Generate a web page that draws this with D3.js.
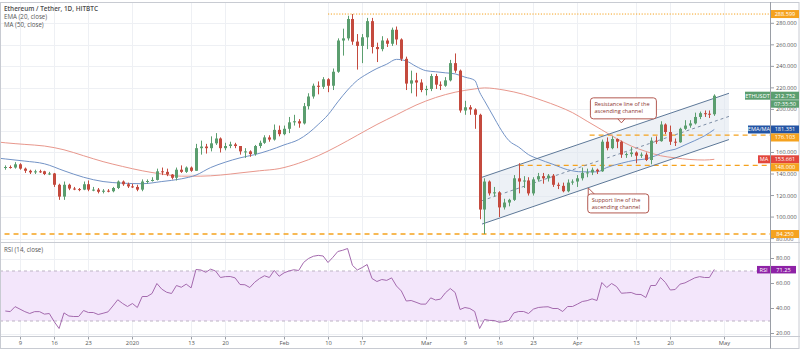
<!DOCTYPE html>
<html>
<head>
<meta charset="utf-8">
<script src="https://cdn.jsdelivr.net/npm/d3@7"></script>
<style>
  body { margin: 0; background: #fff; }
  svg { display: block; font-family: "Open Sans", "Liberation Sans", sans-serif; }
</style>
</head>
<body>
<svg id="chart" width="800" height="352"></svg>
<script>
// ETH/USDT daily, 2019-12-06 .. 2020-04-29 (day index 0..145)
const START = Date.UTC(2019, 11, 6);
const DAY = 864e5;
const dayDate = d => new Date(START + d * DAY);

// [open, high, low, close] per day
const candles = [
  [146,148,144,146.5],[146.5,148,145,146],[146,151,145,149],[149,150,144,145],[145,146,141,143],
  [143,144,140,141.5],[141.5,144,140,142.5],[142.5,144,141,142],[142.5,143,139,140],[140,142,139,140.5],
  [140.5,141,128,130],[130,131,116,119],[119,133,116,130],[130,131,125,126.5],[126.5,128,125,126],
  [126,127,124,125.5],[125.5,133,125,130.5],[130.5,134,124,125.5],[125.5,128,124,125.5],[125.5,127,122,123.5],
  [123.5,126,122,124.5],[124.5,126,123,124],[124,128,123,127],[127,134,126,133],[133,134,129,130.5],
  [130.5,132,127,128.5],[128.5,131,127,128],[128,130,124,125.5],[125.5,135,124,133],[133,135,131,133.5],
  [133.5,137,133,134.5],[134.5,145,134,142.5],[142.5,146,139,142],[142,145,138,139.5],[139.5,140,135,136.5],
  [136.5,146,134,144],[144,148,141,142],[142,147,141,146],[146,147,142,143],[143,168,143,164],
  [164,171,158,165.5],[165.5,168,159,164],[164,175,161,168.5],[168.5,178,167,173],[173,174,160,164],
  [164,169,162,166],[166,170,164,167.5],[167.5,169,164,166],[166,166,158,161],[161,164,155,161],
  [161,162,156,158.5],[158.5,167,157,166],[166,171,164,169],[169,176,168,174],[174,176,170,172],
  [172,186,171,181],[181,185,175,177],[177,185,176,182],[182,193,178,188],[188,195,185,189],
  [189,191,183,187],[187,206,186,203],[203,215,200,212],[212,224,210,222],[222,226,214,221],
  [221,230,219,228],[228,229,216,222],[222,238,218,235],[235,266,234,264],[264,275,250,266],
  [266,287,264,284],[284,288.6,260,263],[263,270,237,259],[259,270,243,267],[267,285,256,282],
  [282,285,252,258],[258,262,244,256],[256,268,254,264],[264,266,258,261],[261,276,259,274],
  [274,277,260,265],[265,266,245,247],[247,249,218,224],[224,236,215,227],[227,234,212,225],
  [225,228,216,218],[218,222,213,219],[219,233,217,231],[231,233,219,223],[223,226,218,222],
  [222,230,221,227],[227,246,226,243],[243,252,234,236],[236,237,197,199],[199,208,195,202],
  [202,204,195,200],[200,201,182,195],[195,196,98,107],[107,136,84.25,133],[133,134,120,122],
  [122,128,119,123],[123,124,100,109],[109,117,107,113.5],[113.5,117,110,116],[116,139,115,136],
  [136,150,122,133],[133,138,127,134],[134,137,120,122],[122,137,120,135],[135,141,133,138],
  [138,141,131,136],[136,140,133,138.5],[138.5,140,128,130],[130,132,126,129],[129,132,123,124],
  [124,135,123,132],[132,135,130,133],[133,139,128,136],[136,146,134,141],[141,145,137,141.5],
  [141.5,146,139,144],[144,145,140,142.5],[142.5,172,142,170],[170,174,162,164],[164,175,163,172.5],
  [172.5,173,164,170],[170,171,155,158],[158,160,155,158.5],[158.5,165,156,160],[160,161,150,157],
  [157,160,155,158],[158,160,152,153],[153,174,149,171],[171,175,168,170.5],[170.5,189,170,186],
  [186,187,177,179],[179,185,167,170],[170,173,166,169.5],[169.5,183,169,182],[182,190,181,185],
  [185,190,183,187],[187,197,186,193],[193,198,191,196.5],[196.5,199,193,196],[196,199,192,195.5],
  [195.5,214,194,212.752]
];

const rsi14 = [
  38,37.5,41.5,39.5,37.5,36,37.5,37.5,35.5,36,
  29.5,24,36.5,34,33.6,33.6,38.4,36.8,36.8,35.2,
  36.2,37.3,42,47,44,41.6,44,40.8,49.6,49.6,
  52,60,55.5,53,52,58.4,57,59.5,56.5,71.2,
  70.8,69,71.5,70,64.8,65.5,65.6,64.5,59.2,59,
  56.8,61,64,66.2,64.8,70.5,65.8,68.5,70,71,
  70.4,76.8,80,81.8,82.5,82,76.8,81,85.6,86.6,
  88,74.5,70.8,72.8,75.2,64,61.6,63.2,62.5,64.5,
  58,54,46,46.4,45,43.5,43.5,48.5,46.8,47.5,
  52.5,56,52.8,39.2,40.8,40,37.6,24,31.2,30.5,
  30.4,29,29.5,30.5,36.5,37.6,37.6,36,39.5,40.8,
  41.2,41.4,40,40,37.6,41.6,41.6,43.5,45.6,46.3,
  47.7,46.4,60.8,56.8,60,57.6,52.2,52.5,52.8,51.3,
  51.2,48.8,58.4,58.4,64.8,60.8,54.8,55.2,59.5,60.5,
  62.5,64.5,65.5,64.8,64.8,71.25
];

// [day, value]
const ema20 = [
  [-1,154.5],[0,154],[4,152],[8,149.5],[12,143],[16,137],[20,133],[24,131.5],[28,131],[32,133],
  [36,135.5],[39,139],[42,146],[45,151],[48,155],[51,158],[54,162],[57,167],[60,172],
  [62,178],[64,186],[66,195],[68,207],[70,218],[72,227],[74,233],[76,238],[78,242],
  [80,246.5],[82,245],[84,240],[86,236],[88,235],[90,234],[92,233],[94,230],[96,227],
  [97,216],[98,208],[99,200],[100,192],[101,184],[103,171],[105,165],[107,158],[109,154],
  [112,149],[115,144],[118,142],[121,142],[123,146],[126,150],[129,153],[131,154],
  [133,157],[135,161],[137,163],[139,167],[141,171],[143,175.5],[145,181.351]
];
const ma50 = [
  [-1,169.5],[0,169],[4,167.5],[8,166],[12,162.5],[16,157],[20,151.5],[24,147],[28,143],[32,140],
  [36,138],[40,138],[44,139],[48,141],[52,143],[56,145],[60,150],[64,157],[68,166],
  [72,176],[76,186],[80,195],[84,204],[88,211],[92,216],[96,219],[98,220],[102,218],
  [106,214],[110,208],[113,203],[116,197],[119,189],[122,181],[125,173],[128,166],
  [131,161],[134,157],[137,155],[140,153.5],[143,153],[145,153.661]
];

// ascending channel: [start day, end day], prices at those days
const channelDays = [97.5, 148];
const channelUpper = [137, 215];
const channelLower = [93.5, 172];

const hLevels = [
  { price: 288.599, fromDay: 66, dash: "1.2,1.6", w: 1 },
  { price: 176.103, fromDay: 119.5, dash: "5,4", w: 1.3 },
  { price: 148.0, fromDay: 105, dash: "5,4", w: 1.3 },
  { price: 84.25, fromDay: -2, dash: "5,4", w: 1.3 }
];

const priceTicks = [80, 100, 120, 140, 160, 180, 200, 220, 240, 260, 280];
const rsiTicks = [20, 40, 60, 80];
const timeTicks = [
  ["2019-12-09","9"],["2019-12-16","16"],["2019-12-23","23"],["2020-01-01","2020"],
  ["2020-01-13","13"],["2020-01-20","20"],["2020-02-01","Feb"],["2020-02-10","10"],
  ["2020-02-17","17"],["2020-03-01","Mar"],["2020-03-09","9"],["2020-03-16","16"],
  ["2020-03-23","23"],["2020-04-01","Apr"],["2020-04-13","13"],["2020-04-20","20"],
  ["2020-05-01","May"]
];

const lastPrice = 212.752, emaLast = 181.351, maLast = 153.661, rsiLast = 71.25;
const countdown = "07:35:50";

// ---- layout
const W = 800, H = 352, R = 770;
const mainTop = 3, mainBot = 242, rsiTop = 243, rsiBot = 336, axisBot = 348;
const GREEN = "#5b9e6f", RED = "#c44a3e", ORANGE = "#f5a21e", BLUE = "#2354a4",
      MARED = "#e2463c", PURPLE = "#8e22a6", GRID = "#eef0f4", TXT = "#555";

const svg = d3.select("#chart");
const x = d3.scaleUtc().domain([dayDate(0), dayDate(145)]).range([5.3, 714.3]);
const xd = d => x(dayDate(d));
const y = d3.scaleLinear().domain([80, 280]).range([238.6, 23.3]);
const yr = d3.scaleLinear().domain([20, 80]).range([333.5, 258.5]);

svg.append("rect").attr("width", W).attr("height", H).attr("fill", "#fff");

const defs = svg.append("defs");
defs.append("clipPath").attr("id", "cm").append("rect")
  .attr("x", 0).attr("y", mainTop).attr("width", R).attr("height", mainBot - mainTop);

// grid
const grid = svg.append("g").attr("stroke", GRID).attr("stroke-width", 1);
timeTicks.forEach(([d]) => {
  const xx = Math.round(x(new Date(d + "T00:00:00Z"))) + 0.5;
  grid.append("line").attr("x1", xx).attr("x2", xx).attr("y1", mainTop).attr("y2", rsiBot);
});
priceTicks.forEach(p => {
  const yy = Math.round(y(p)) + 0.5;
  grid.append("line").attr("x1", 0).attr("x2", R).attr("y1", yy).attr("y2", yy);
});
rsiTicks.forEach(p => {
  const yy = Math.round(yr(p)) + 0.5;
  grid.append("line").attr("x1", 0).attr("x2", R).attr("y1", yy).attr("y2", yy);
});

const main = svg.append("g").attr("clip-path", "url(#cm)");

// channel fill
const chPts = (prices) => channelDays.map((d, i) => [xd(d), y(prices[i])]);
const up = chPts(channelUpper), lo = chPts(channelLower);
const mid = channelDays.map((d, i) => [xd(d), y((channelUpper[i] + channelLower[i]) / 2)]);
main.append("path")
  .attr("d", d3.line()([up[0], up[1], lo[1], lo[0]]) + "Z")
  .attr("fill", "#dfe5ee").attr("fill-opacity", 0.55);

// horizontal levels
hLevels.forEach(l => {
  const yy = y(l.price);
  main.append("line").attr("x1", xd(l.fromDay)).attr("x2", R).attr("y1", yy).attr("y2", yy)
    .attr("stroke", ORANGE).attr("stroke-width", l.w).attr("stroke-dasharray", l.dash);
});

// indicator lines
const lineDay = d3.line().x(d => xd(d[0])).y(d => y(d[1])).curve(d3.curveMonotoneX);
main.append("path").attr("d", lineDay(ma50)).attr("fill", "none")
  .attr("stroke", "#e8978c").attr("stroke-width", 1);
main.append("path").attr("d", lineDay(ema20)).attr("fill", "none")
  .attr("stroke", "#7393c6").attr("stroke-width", 1);

// channel lines
[up, lo].forEach(pts => main.append("path").attr("d", d3.line()(pts))
  .attr("stroke", "#5d7898").attr("stroke-width", 1).attr("fill", "none"));
main.append("path").attr("d", d3.line()(mid)).attr("stroke", "#7d8ea6")
  .attr("stroke-width", 1).attr("stroke-dasharray", "3,3").attr("fill", "none");

// candles
const cw = 3;
const cg = main.append("g");
candles.forEach(([o, h, l, c], i) => {
  const col = c >= o ? GREEN : RED;
  const cx = Math.round(xd(i));
  cg.append("line").attr("x1", cx + 0.5).attr("x2", cx + 0.5).attr("y1", y(h)).attr("y2", y(l))
    .attr("stroke", col).attr("stroke-width", 1);
  const top = y(Math.max(o, c)), bot = y(Math.min(o, c));
  cg.append("rect").attr("x", cx - 1).attr("y", top).attr("width", cw)
    .attr("height", Math.max(1, bot - top)).attr("fill", col);
});

// annotations
function chanAt(prices, d) {
  const t = (d - channelDays[0]) / (channelDays[1] - channelDays[0]);
  return prices[0] + t * (prices[1] - prices[0]);
}
function note(lines, bx, by, bw, bh, tail) {
  const g = svg.append("g");
  g.append("path").attr("d", tail).attr("fill", "#fff").attr("stroke", "#b35a52").attr("stroke-width", 1);
  g.append("rect").attr("x", bx).attr("y", by).attr("width", bw).attr("height", bh).attr("rx", 3)
    .attr("fill", "#fff").attr("stroke", "#b35a52").attr("stroke-width", 1);
  const t = g.append("text").attr("font-size", 5.6).attr("fill", "#8c3630");
  lines.forEach((s, i) => t.append("tspan").attr("x", bx + 4).attr("y", by + 8 + i * 7).text(s));
}
{
  const px = xd(126), py = y(chanAt(channelUpper, 126)) - 7;
  const bx = px - 31, by = py - 25;
  note(["Resistance line of the", "ascending channel"], bx, by, 66, 21,
    `M${px - 4},${by + 20.5} L${px},${py} L${px + 4},${by + 20.5}`);
}
{
  const px = xd(118.5) + 3, py = y(chanAt(channelLower, 118.5)) + 1;
  const bx = px, by = py + 4;
  note(["Support line of the", "ascending channel"], bx, by, 61, 19,
    `M${bx + 0.5},${by + 3} L${px + 0.5},${py - 2} L${bx + 7},${by + 0.5}`);
}

// legend
svg.append("text").attr("x", 4).attr("y", 11).attr("font-size", 6.4).attr("font-weight", 600)
  .attr("fill", "#4a4a4a").text("Ethereum / Tether, 1D, HITBTC");
svg.append("text").attr("x", 4).attr("y", 19).attr("font-size", 6.2).attr("fill", "#555").text("EMA (20, close)");
svg.append("text").attr("x", 4).attr("y", 26.5).attr("font-size", 6.2).attr("fill", "#555").text("MA (50, close)");

// RSI pane
svg.append("rect").attr("x", 0).attr("y", yr(70)).attr("width", R).attr("height", yr(30) - yr(70))
  .attr("fill", "#f3e6fb");
[70, 30].forEach(v => svg.append("line").attr("x1", 0).attr("x2", R)
  .attr("y1", yr(v)).attr("y2", yr(v)).attr("stroke", "#bdb3c4").attr("stroke-dasharray", "3,3"));
svg.append("path").datum(rsi14)
  .attr("d", d3.line().x((d, i) => xd(i)).y(d => yr(d)))
  .attr("fill", "none").attr("stroke", "#a46aae").attr("stroke-width", 1);
svg.append("text").attr("x", 4).attr("y", 252).attr("font-size", 6.2).attr("fill", "#555").text("RSI (14, close)");

// frame
const fr = svg.append("g").attr("stroke", "#c8cbd2").attr("stroke-width", 1).attr("fill", "none");
fr.append("rect").attr("x", 0.5).attr("y", 2.5).attr("width", W - 1.5).attr("height", axisBot - 2);
fr.append("line").attr("x1", 0).attr("x2", W).attr("y1", mainBot + 0.5).attr("y2", mainBot + 0.5);
fr.append("line").attr("x1", 0).attr("x2", W).attr("y1", rsiBot + 0.5).attr("y2", rsiBot + 0.5);
fr.append("line").attr("x1", R + 0.5).attr("x2", R + 0.5).attr("y1", 2).attr("y2", axisBot + 0.5)
  .attr("stroke", "#9a9ea6");

// time axis
timeTicks.forEach(([d, lab]) => {
  const xx = Math.round(x(new Date(d + "T00:00:00Z"))) + 0.5;
  svg.append("line").attr("x1", xx).attr("x2", xx).attr("y1", rsiBot + 1).attr("y2", rsiBot + 3.5)
    .attr("stroke", "#9a9ea6");
  svg.append("text").attr("x", xx).attr("y", 345).attr("text-anchor", "middle")
    .attr("font-size", 5.8).attr("fill", TXT).text(lab);
});

// price axis
const ax = svg.append("g");
priceTicks.forEach(p => {
  ax.append("line").attr("x1", R + 1).attr("x2", R + 4).attr("y1", y(p)).attr("y2", y(p)).attr("stroke", "#9a9ea6");
  ax.append("text").attr("x", R + 6).attr("y", y(p)).attr("dy", "0.35em")
    .attr("font-size", 5.6).attr("fill", TXT).text(d3.format(".3f")(p));
});
rsiTicks.forEach(p => {
  ax.append("line").attr("x1", R + 1).attr("x2", R + 4).attr("y1", yr(p)).attr("y2", yr(p)).attr("stroke", "#9a9ea6");
  ax.append("text").attr("x", R + 6).attr("y", yr(p)).attr("dy", "0.35em")
    .attr("font-size", 5.6).attr("fill", TXT).text(d3.format(".2f")(p));
});

// value tags on the price axis (pushed apart when they collide)
const tags = [
  { v: 288.599, text: "288.599", bg: ORANGE, h: 8 },
  { v: lastPrice, text: "212.752", bg: GREEN, h: 16, side: "ETHUSDT", sideW: 25, sub: countdown },
  { v: emaLast, text: "181.351", bg: BLUE, h: 8, side: "EMA/MA", sideW: 22 },
  { v: 176.103, text: "176.103", bg: ORANGE, h: 8 },
  { v: maLast, text: "153.661", bg: MARED, h: 8, side: "MA", sideW: 12 },
  { v: 148.0, text: "148.000", bg: ORANGE, h: 8 },
  { v: 84.25, text: "84.250", bg: ORANGE, h: 8 }
];
let prevBottom = -Infinity;
tags.forEach(t => {
  let top = y(t.v) - 4;
  if (top < prevBottom) top = prevBottom;
  prevBottom = top + t.h;
  const g = svg.append("g");
  g.append("rect").attr("x", R + 1).attr("y", top).attr("width", 28).attr("height", 8).attr("fill", t.bg);
  g.append("text").attr("x", R + 15).attr("y", top + 4).attr("dy", "0.35em").attr("text-anchor", "middle")
    .attr("font-size", 5.6).attr("fill", "#fff").text(t.text);
  if (t.sub) {
    g.append("rect").attr("x", R + 1).attr("y", top + 8.5).attr("width", 28).attr("height", 7.5).attr("fill", t.bg);
    g.append("text").attr("x", R + 15).attr("y", top + 12.3).attr("dy", "0.35em").attr("text-anchor", "middle")
      .attr("font-size", 5.6).attr("fill", "#fff").text(t.sub);
  }
  if (t.side) {
    g.append("rect").attr("x", R - t.sideW).attr("y", top).attr("width", t.sideW).attr("height", 8).attr("fill", t.bg);
    g.append("text").attr("x", R - t.sideW / 2).attr("y", top + 4).attr("dy", "0.35em").attr("text-anchor", "middle")
      .attr("font-size", 5.6).attr("fill", "#fff").text(t.side);
  }
});
{
  const top = yr(rsiLast) - 3.5;
  svg.append("rect").attr("x", R + 1).attr("y", top).attr("width", 25).attr("height", 7.5).attr("fill", PURPLE);
  svg.append("text").attr("x", R + 13.5).attr("y", top + 3.8).attr("dy", "0.35em").attr("text-anchor", "middle")
    .attr("font-size", 5.6).attr("fill", "#fff").text("71.25");
  svg.append("rect").attr("x", R - 13).attr("y", top).attr("width", 13).attr("height", 7.5).attr("fill", PURPLE);
  svg.append("text").attr("x", R - 6.5).attr("y", top + 3.8).attr("dy", "0.35em").attr("text-anchor", "middle")
    .attr("font-size", 5.6).attr("fill", "#fff").text("RSI");
}
</script>
</body>
</html>
